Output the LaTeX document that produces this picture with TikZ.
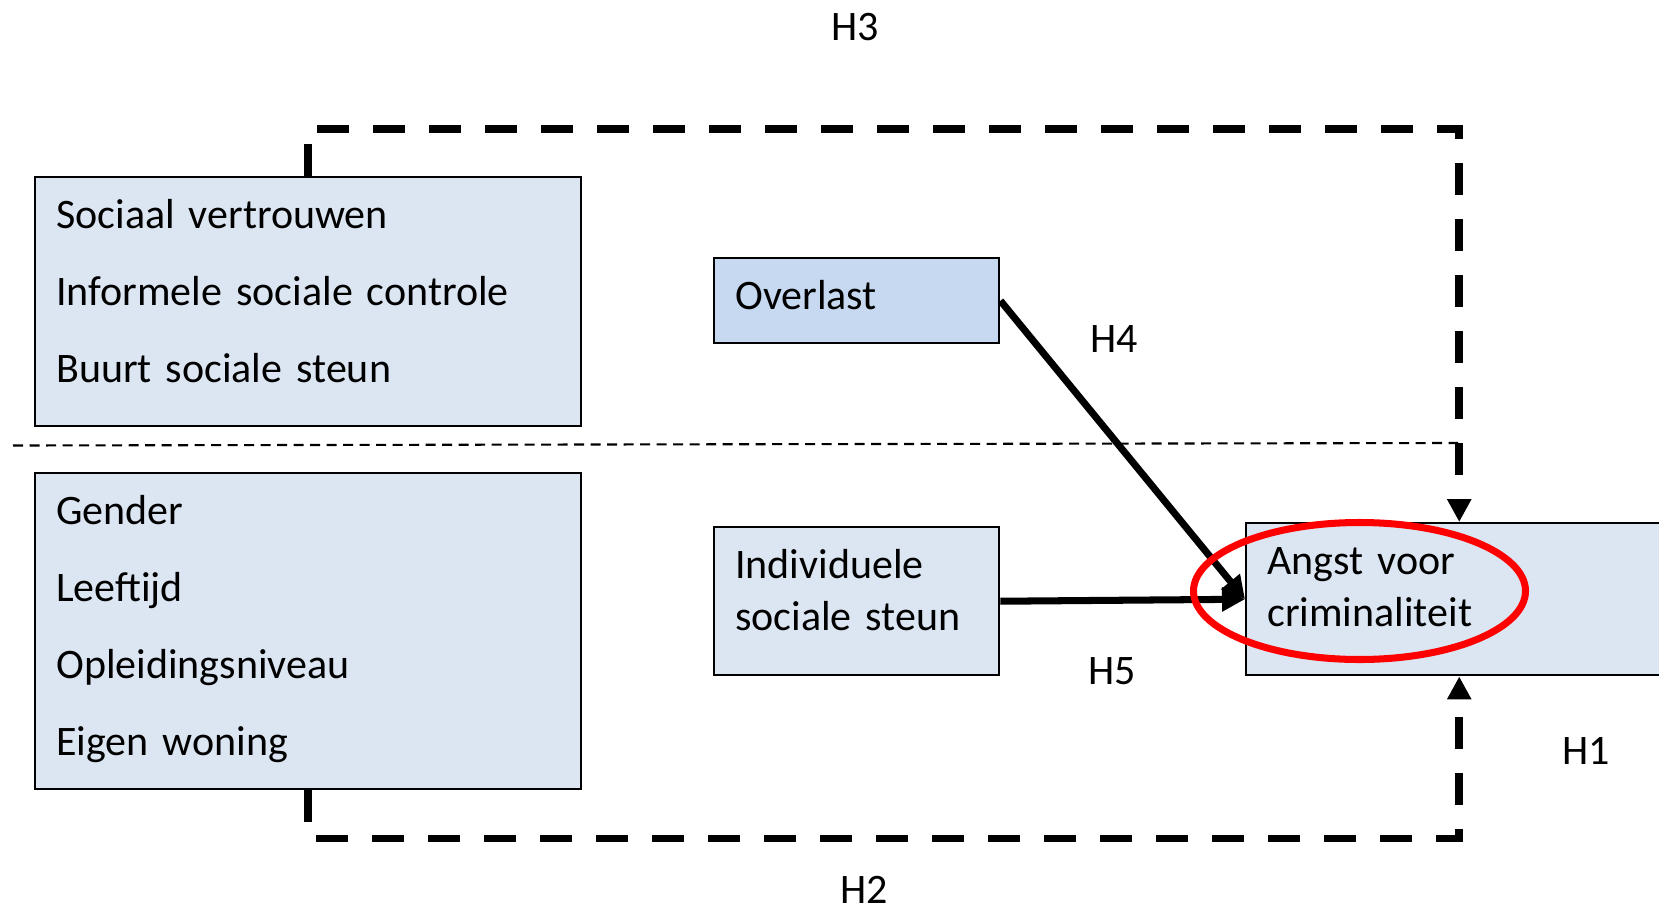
\documentclass[tikz,border=0pt]{standalone}
\usepackage{fontspec}
\setmainfont{Carlito}
\usepackage{tikz}
\usetikzlibrary{arrows.meta,positioning,calc}
\definecolor{boxblue}{HTML}{DCE6F2}
\definecolor{overblue}{HTML}{C6D9F1}
\newcommand{\diagfont}{\fontsize{11.95}{14.65}\selectfont}
\tikzstyle{box}=[draw=black,line width=0.7pt,fill=boxblue,anchor=north west,align=left,inner xsep=0.21cm,inner ysep=0.15cm,text height=0.367cm,font=\diagfont]
\tikzstyle{hyp}=[font=\diagfont,inner sep=0pt]
\tikzstyle{effect}=[line width=2pt,-{Triangle[length=0.23cm,width=0.23cm]}]
\tikzstyle{frame}=[line width=2.2pt,dash pattern=on 0.32cm off 0.24cm,-{Triangle[length=0.23cm,width=0.23cm]}]
\tikzstyle{divider}=[line width=0.6pt,dash pattern=on 0.1cm off 0.065cm]
\tikzstyle{highlight}=[draw=red,line width=2pt]

\begin{document}
\begin{tikzpicture}
      \clip (0,0) rectangle (16.59,9.11);
      % blocks
      \node[box, text width=5.04cm, text depth=1.823cm] at (0.34,7.35) (social) {Sociaal vertrouwen\\[0.255cm]Informele sociale controle\\[0.255cm]Buurt sociale steun};
      \node[box, text width=5.04cm, text depth=2.493cm] at (0.34,4.39) (demo) {Gender\\[0.255cm]Leeftijd\\[0.255cm]Opleidingsniveau\\[0.255cm]Eigen woning};
      \node[box, fill=overblue, text width=2.43cm, text depth=0.183cm] at (7.13,6.54) (overlast) {Overlast};
      \node[box, text width=2.43cm, text depth=0.813cm] at (7.13,3.85) (steun) {Individuele\\sociale steun};
      \node[box, text width=3.84cm, text depth=0.853cm] at (12.45,3.89) (angst) {Angst voor\\criminaliteit};
      % split between the two levels
      \draw[divider] (0.13,4.655) -- (14.58,4.68);
      % hypotheses
      \draw[frame] (social.north) |- ([yshift=3.93cm]angst.north) -- (angst.north);
      \draw[frame] (demo.south) |- ([yshift=-1.62cm]angst.south) -- (angst.south);
      \draw[effect] (overlast.east) -- (angst.west);
      \draw[effect] (steun.east) -- (angst.west);
      \node[hyp] at (8.55,8.835) (h3) {H3};
      \node[hyp] at (11.14,5.72) (h4) {H4};
      \node[hyp] at (11.12,2.40) (h5) {H5};
      \node[hyp] at (15.86,1.60) (h1) {H1};
      \node[hyp] at (8.64,0.21) (h2) {H2};
      \draw[highlight] (13.595,3.20) ellipse [x radius=1.66, y radius=0.685];
\end{tikzpicture}
\end{document}
